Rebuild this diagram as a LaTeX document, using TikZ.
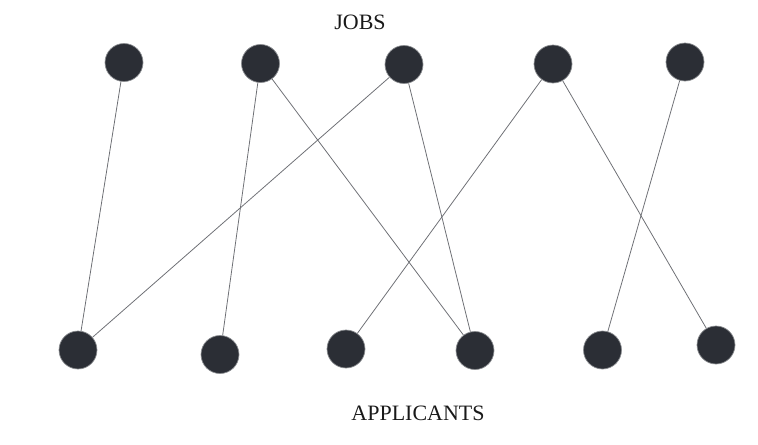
\documentclass[tikz,border=0pt]{standalone}
\usepackage{fontspec}
\setmainfont{Liberation Serif}
\usepackage{xcolor}
\usetikzlibrary{positioning}
\definecolor{dotfill}{HTML}{2B2E35}
\definecolor{dotedge}{HTML}{8A8C90}
\definecolor{edgegray}{HTML}{6E7075}

\begin{document}
\begin{tikzpicture}
  [x=0.02cm,y=-0.02cm,
  dot/.style={circle,fill=dotfill,draw=dotedge,line width=0.4pt,minimum size=0.76cm,inner sep=0pt},
  title/.style={font=\fontsize{12.5}{14}\selectfont,text=black!90},
  match/.style={draw=edgegray,line width=0.45pt}]

\useasboundingbox (0,0) rectangle (758,444);

\node[title] (jobs) at (360,22)  {JOBS};
\node[title] (apps) at (418,413) {APPLICANTS};

% jobs
\node[dot] (j1) at (124,62.5) {};
\node[dot] (j2) at (260.5,63.5) {};
\node[dot] (j3) at (404,64.5) {};
\node[dot] (j4) at (553,64) {};
\node[dot] (j5) at (685,62) {};

% applicants
\node[dot] (a1) at (78,350) {};
\node[dot] (a2) at (220,354.5) {};
\node[dot] (a3) at (346,349) {};
\node[dot] (a4) at (475,350.5) {};
\node[dot] (a5) at (602.5,350) {};
\node[dot] (a6) at (716,345) {};

\draw[match] (j1)--(a1); \draw[match] (j2)--(a2); \draw[match] (j2)--(a4);
\draw[match] (j3)--(a1); \draw[match] (j3)--(a4);
\draw[match] (j4)--(a3); \draw[match] (j4)--(a6);
\draw[match] (j5)--(a5);
\end{tikzpicture}
\end{document}
